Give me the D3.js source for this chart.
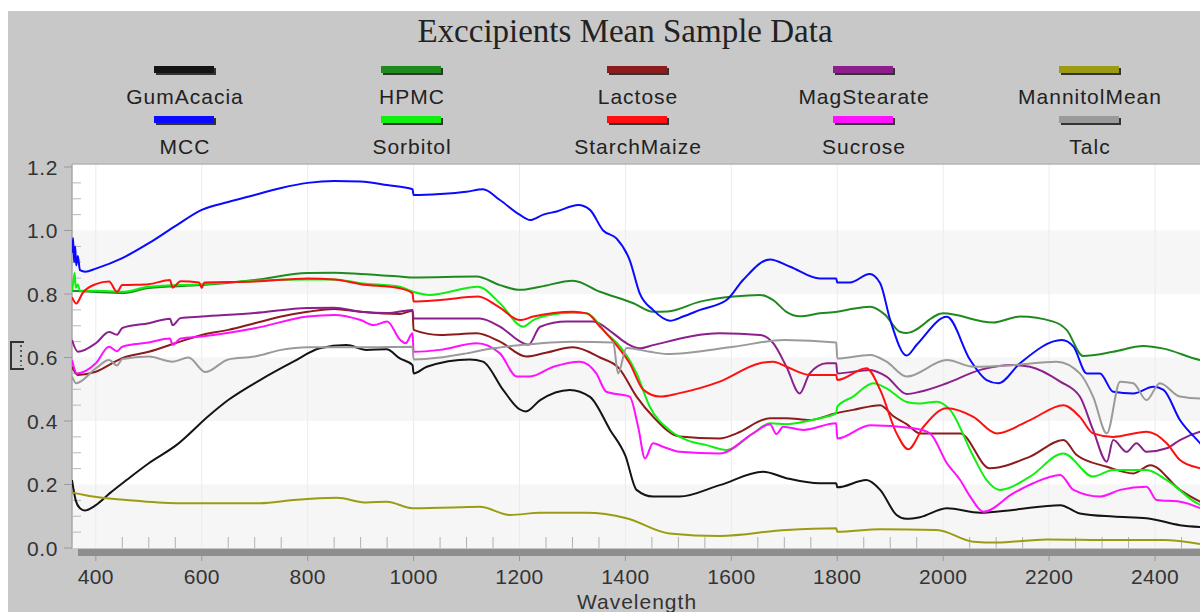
<!DOCTYPE html>
<html>
<head>
<meta charset="utf-8">
<script src="https://cdn.jsdelivr.net/npm/d3@7"></script>
<style>
  body { margin: 0; background: #fff; overflow: hidden; }
  text { font-family: Arial, "Liberation Sans", sans-serif; }
  text.title { font-family: "Liberation Serif", "Times New Roman", serif; }
</style>
</head>
<body>
<div id="chart"></div>
<script>
// [wavelength, absorbance] pairs
const gumAcacia = [[355,0.214],[362,0.15],[370,0.125],[379,0.118],[400,0.135],[426,0.172],[458,0.214],[500,0.267],[552,0.324],[615,0.419],[650,0.466],[710,0.529],[773,0.587],[823,0.629],[873,0.639],[911,0.624],[949,0.626],[974,0.597],[998,0.576],[1000,0.55],[1025,0.571],[1106,0.594],[1131,0.587],[1169,0.498],[1200,0.437],[1212,0.43],[1239,0.466],[1295,0.498],[1333,0.476],[1371,0.372],[1400,0.29],[1421,0.183],[1452,0.162],[1502,0.162],[1578,0.198],[1660,0.24],[1704,0.22],[1767,0.204],[1798,0.204],[1800,0.191],[1855,0.214],[1881,0.183],[1912,0.104],[1930,0.092],[1956,0.097],[2007,0.125],[2070,0.111],[2132,0.12],[2221,0.135],[2258,0.109],[2321,0.099],[2384,0.094],[2447,0.072],[2500,0.065]];
const hpmc = [[355,0.81],[400,0.806],[450,0.803],[500,0.819],[600,0.828],[700,0.844],[800,0.866],[850,0.867],[900,0.863],[974,0.855],[1000,0.852],[1119,0.855],[1163,0.828],[1201,0.813],[1239,0.823],[1301,0.842],[1352,0.807],[1415,0.771],[1452,0.744],[1480,0.745],[1541,0.776],[1604,0.792],[1654,0.797],[1679,0.781],[1704,0.744],[1729,0.73],[1767,0.739],[1800,0.744],[1824,0.752],[1862,0.76],[1890,0.735],[1918,0.681],[1931,0.677],[2000,0.739],[2094,0.71],[2145,0.729],[2208,0.713],[2233,0.687],[2264,0.605],[2321,0.618],[2378,0.636],[2416,0.628],[2485,0.592],[2500,0.588]];
const lactose = [[355,0.571],[366,0.545],[400,0.555],[440,0.59],[450,0.598],[500,0.618],[550,0.645],[600,0.671],[650,0.687],[700,0.708],[750,0.729],[800,0.744],[850,0.753],[900,0.744],[974,0.737],[998,0.747],[1000,0.687],[1050,0.671],[1119,0.676],[1163,0.65],[1213,0.603],[1250,0.615],[1301,0.632],[1352,0.6],[1388,0.566],[1421,0.477],[1452,0.414],[1502,0.351],[1578,0.345],[1610,0.361],[1673,0.409],[1704,0.409],[1748,0.403],[1796,0.424],[1830,0.435],[1881,0.45],[1906,0.415],[1931,0.39],[1956,0.361],[2032,0.361],[2088,0.251],[2164,0.288],[2227,0.34],[2252,0.293],[2309,0.256],[2359,0.235],[2391,0.261],[2447,0.183],[2485,0.146],[2500,0.135]];
const magStearate = [[355,0.655],[366,0.618],[400,0.645],[425,0.68],[440,0.672],[450,0.693],[500,0.708],[540,0.722],[545,0.702],[560,0.724],[600,0.729],[700,0.74],[800,0.756],[850,0.757],[900,0.744],[950,0.74],[998,0.75],[1000,0.723],[1125,0.723],[1163,0.697],[1207,0.645],[1217,0.64],[1239,0.697],[1289,0.713],[1339,0.713],[1377,0.676],[1402,0.645],[1427,0.629],[1452,0.639],[1578,0.676],[1654,0.671],[1679,0.645],[1704,0.571],[1729,0.487],[1748,0.55],[1780,0.582],[1798,0.582],[1800,0.55],[1862,0.561],[1893,0.54],[1931,0.485],[1956,0.492],[2007,0.519],[2070,0.561],[2132,0.576],[2164,0.571],[2221,0.524],[2258,0.477],[2283,0.372],[2309,0.272],[2321,0.34],[2346,0.303],[2365,0.33],[2384,0.303],[2422,0.314],[2447,0.34],[2485,0.366],[2500,0.372]];
const mannitolMean = [[355,0.175],[395,0.162],[458,0.151],[552,0.141],[710,0.141],[773,0.151],[855,0.158],[911,0.143],[949,0.146],[999,0.125],[1087,0.128],[1125,0.13],[1182,0.104],[1239,0.111],[1326,0.111],[1402,0.094],[1483,0.046],[1578,0.038],[1704,0.057],[1798,0.062],[1800,0.051],[1881,0.059],[1988,0.057],[2057,0.02],[2101,0.017],[2195,0.027],[2321,0.025],[2416,0.025],[2500,0.008]];
const mcc = [[355,0.93],[357,0.976],[359,0.9],[361,0.95],[363,0.89],[366,0.92],[370,0.875],[380,0.87],[400,0.88],[450,0.913],[500,0.96],[550,1.014],[600,1.065],[650,1.09],[700,1.112],[750,1.134],[800,1.15],[850,1.156],[900,1.154],[950,1.143],[998,1.13],[1000,1.112],[1050,1.115],[1100,1.122],[1131,1.13],[1163,1.096],[1201,1.049],[1220,1.033],[1245,1.05],[1270,1.06],[1311,1.08],[1333,1.065],[1358,1.0],[1383,0.975],[1408,0.907],[1427,0.802],[1452,0.75],[1484,0.716],[1509,0.729],[1541,0.75],[1591,0.781],[1622,0.844],[1673,0.909],[1711,0.886],[1767,0.849],[1798,0.849],[1800,0.836],[1824,0.836],[1861,0.863],[1881,0.834],[1900,0.718],[1931,0.606],[1950,0.64],[2007,0.728],[2051,0.592],[2082,0.529],[2104,0.519],[2145,0.582],[2224,0.655],[2246,0.634],[2271,0.55],[2296,0.55],[2321,0.492],[2359,0.487],[2397,0.508],[2416,0.498],[2447,0.403],[2485,0.33],[2500,0.3]];
const sorbitol = [[355,0.81],[358,0.845],[360,0.866],[362,0.82],[366,0.83],[370,0.81],[400,0.81],[450,0.807],[500,0.823],[600,0.831],[700,0.842],[800,0.846],[850,0.846],[900,0.834],[974,0.823],[999,0.807],[1031,0.797],[1122,0.823],[1163,0.771],[1207,0.697],[1226,0.718],[1257,0.734],[1301,0.741],[1327,0.739],[1364,0.676],[1390,0.634],[1421,0.55],[1446,0.445],[1483,0.372],[1516,0.34],[1553,0.324],[1591,0.309],[1641,0.361],[1673,0.393],[1704,0.39],[1767,0.409],[1798,0.424],[1800,0.445],[1830,0.477],[1868,0.519],[1893,0.503],[1931,0.46],[1956,0.455],[1988,0.461],[2013,0.435],[2057,0.288],[2082,0.214],[2107,0.183],[2164,0.225],[2227,0.298],[2283,0.225],[2321,0.246],[2384,0.246],[2422,0.214],[2479,0.141],[2500,0.125]];
const starchMaize = [[355,0.79],[363,0.77],[375,0.803],[400,0.831],[425,0.839],[440,0.807],[450,0.828],[500,0.831],[540,0.844],[545,0.82],[560,0.84],[595,0.836],[600,0.819],[605,0.836],[700,0.839],[800,0.849],[850,0.846],[900,0.831],[974,0.818],[998,0.802],[1000,0.776],[1050,0.781],[1122,0.792],[1160,0.76],[1201,0.718],[1226,0.729],[1301,0.744],[1327,0.739],[1352,0.697],[1383,0.639],[1408,0.582],[1434,0.498],[1465,0.477],[1500,0.487],[1578,0.524],[1654,0.582],[1679,0.587],[1704,0.571],[1748,0.545],[1798,0.545],[1800,0.529],[1855,0.566],[1881,0.498],[1912,0.361],[1934,0.311],[1963,0.382],[2007,0.44],[2057,0.413],[2101,0.361],[2164,0.403],[2227,0.45],[2258,0.413],[2283,0.361],[2321,0.35],[2384,0.366],[2422,0.33],[2447,0.277],[2485,0.251],[2500,0.245]];
const sucrose = [[355,0.592],[364,0.55],[400,0.582],[425,0.634],[440,0.62],[450,0.634],[500,0.647],[540,0.66],[545,0.64],[560,0.66],[600,0.666],[700,0.692],[800,0.729],[850,0.734],[900,0.718],[925,0.702],[950,0.713],[975,0.655],[985,0.645],[998,0.676],[1000,0.618],[1050,0.624],[1119,0.645],[1163,0.613],[1195,0.54],[1220,0.54],[1264,0.571],[1314,0.587],[1345,0.55],[1364,0.492],[1408,0.477],[1424,0.382],[1437,0.282],[1452,0.33],[1471,0.319],[1502,0.303],[1578,0.298],[1641,0.361],[1673,0.39],[1685,0.359],[1698,0.382],[1736,0.372],[1798,0.393],[1800,0.345],[1862,0.387],[1944,0.377],[1975,0.361],[2007,0.267],[2032,0.214],[2051,0.162],[2076,0.114],[2132,0.172],[2170,0.204],[2221,0.23],[2246,0.183],[2296,0.162],[2334,0.183],[2384,0.193],[2403,0.151],[2447,0.146],[2500,0.115]];
const talc = [[355,0.54],[363,0.519],[400,0.566],[425,0.592],[440,0.575],[450,0.595],[500,0.603],[545,0.587],[575,0.6],[607,0.554],[650,0.594],[700,0.603],[750,0.624],[800,0.632],[900,0.632],[998,0.634],[1000,0.594],[1050,0.6],[1100,0.613],[1150,0.629],[1201,0.639],[1301,0.65],[1377,0.647],[1386,0.55],[1402,0.63],[1446,0.618],[1478,0.611],[1604,0.634],[1700,0.655],[1798,0.647],[1800,0.597],[1862,0.608],[1893,0.587],[1931,0.54],[2007,0.592],[2057,0.571],[2132,0.576],[2214,0.587],[2258,0.55],[2283,0.477],[2309,0.361],[2334,0.524],[2359,0.519],[2384,0.466],[2409,0.519],[2447,0.477],[2485,0.471],[2500,0.475]];

const seriesNames = ["GumAcacia", "HPMC", "Lactose", "MagStearate", "MannitolMean",
                     "MCC", "Sorbitol", "StarchMaize", "Sucrose", "Talc"];
const seriesData = [gumAcacia, hpmc, lactose, magStearate, mannitolMean,
                    mcc, sorbitol, starchMaize, sucrose, talc];
const seriesColors = ["#141414", "#1f8a1f", "#8c1c1c", "#8c1f8c", "#9c9c14",
                      "#0a0aff", "#10f010", "#ff1010", "#ff10ff", "#9a9a9a"];
const xTicks = [400, 600, 800, 1000, 1200, 1400, 1600, 1800, 2000, 2200, 2400];
const yTicks = [0, 0.2, 0.4, 0.6, 0.8, 1.0, 1.2];

const width = 1200, height = 612;
const plot = { left: 72, top: 164, right: 1208, bottom: 548 };

const svg = d3.select("#chart").append("svg")
    .attr("width", width)
    .attr("height", height);

// gray panel behind everything
svg.append("rect")
    .attr("x", 8).attr("y", 11)
    .attr("width", width).attr("height", height)
    .attr("fill", "#c8c8c8");

const x = d3.scaleLinear().domain([355, 2500]).range([plot.left, plot.right]);
const y = d3.scaleLinear().domain([0, 1.2]).range([plot.bottom, 167]);

// plot background and alternating bands
svg.append("rect")
    .attr("x", plot.left).attr("y", plot.top)
    .attr("width", plot.right - plot.left).attr("height", plot.bottom - plot.top)
    .attr("fill", "#ffffff");

svg.append("g").selectAll("rect")
    .data([[0, 0.2], [0.4, 0.6], [0.8, 1.0]])
    .join("rect")
    .attr("x", plot.left)
    .attr("y", d => y(d[1]))
    .attr("width", plot.right - plot.left)
    .attr("height", d => y(d[0]) - y(d[1]))
    .attr("fill", "#f6f6f6");

// faint vertical grid
svg.append("g").selectAll("line")
    .data(xTicks)
    .join("line")
    .attr("x1", d => x(d)).attr("x2", d => x(d))
    .attr("y1", plot.top).attr("y2", plot.bottom)
    .attr("stroke", "#ebebeb");

// top border of plot
svg.append("line")
    .attr("x1", plot.left).attr("x2", plot.right)
    .attr("y1", plot.top).attr("y2", plot.top)
    .attr("stroke", "#b4b4b4").attr("stroke-width", 1.5);

// y axis line + ticks
svg.append("line")
    .attr("x1", plot.left).attr("x2", plot.left)
    .attr("y1", plot.top).attr("y2", plot.bottom)
    .attr("stroke", "#a8a8a8").attr("stroke-width", 1.5);

const yMinor = d3.range(0.05, 1.2, 0.05).filter(v => Math.abs(v * 5 - Math.round(v * 5)) > 0.01);
svg.append("g").selectAll("line")
    .data(yMinor)
    .join("line")
    .attr("x1", plot.left).attr("x2", plot.left + 9)
    .attr("y1", d => y(d)).attr("y2", d => y(d))
    .attr("stroke", "#b8b8b8");

svg.append("g").selectAll("line")
    .data(yTicks)
    .join("line")
    .attr("x1", plot.left - 8).attr("x2", plot.left)
    .attr("y1", d => y(d)).attr("y2", d => y(d))
    .attr("stroke", "#999");

svg.append("g").selectAll("text")
    .data(yTicks)
    .join("text")
    .attr("x", 58)
    .attr("y", d => y(d))
    .attr("dy", "0.36em")
    .attr("text-anchor", "end")
    .attr("font-size", 21)
    .attr("letter-spacing", 0.6)
    .attr("fill", "#333")
    .text(d => d.toFixed(1));

// x axis: minor ticks inside, dark bar, labels
const xMinor = d3.range(450, 2500, 50).filter(v => v % 200 !== 0);
svg.append("g").selectAll("line")
    .data(xMinor)
    .join("line")
    .attr("x1", d => x(d)).attr("x2", d => x(d))
    .attr("y1", plot.bottom - 11).attr("y2", plot.bottom)
    .attr("stroke", "#b0b0b0");

svg.append("rect")
    .attr("x", 78).attr("y", plot.bottom + 1)
    .attr("width", width).attr("height", 7)
    .attr("fill", "#8e8e8e");

svg.append("g").selectAll("line")
    .data(xTicks)
    .join("line")
    .attr("x1", d => x(d)).attr("x2", d => x(d))
    .attr("y1", plot.bottom + 8).attr("y2", plot.bottom + 13)
    .attr("stroke", "#999");

svg.append("g").selectAll("text")
    .data(xTicks)
    .join("text")
    .attr("x", d => x(d))
    .attr("y", 584)
    .attr("text-anchor", "middle")
    .attr("font-size", 21)
    .attr("letter-spacing", 0.4)
    .attr("fill", "#333")
    .text(d => d);

svg.append("text")
    .attr("x", 637).attr("y", 609)
    .attr("text-anchor", "middle")
    .attr("font-size", 21)
    .attr("letter-spacing", 1)
    .attr("fill", "#333")
    .text("Wavelength");

// small y-axis title glyph
svg.append("path")
    .attr("d", "M24,342 H11 V369 H24")
    .attr("fill", "none").attr("stroke", "#333").attr("stroke-width", 2);
svg.append("line")
    .attr("x1", 21).attr("x2", 21).attr("y1", 345).attr("y2", 366)
    .attr("stroke", "#333").attr("stroke-width", 1.5).attr("stroke-dasharray", "2,3");

// series lines
svg.append("clipPath").attr("id", "plotClip")
    .append("rect")
    .attr("x", plot.left).attr("y", plot.top)
    .attr("width", plot.right - plot.left).attr("height", plot.bottom - plot.top);

const line = d3.line()
    .curve(d3.curveMonotoneX)
    .x(d => x(d[0]))
    .y(d => y(d[1]));

svg.append("g")
    .attr("clip-path", "url(#plotClip)")
    .selectAll("path")
    .data(seriesData)
    .join("path")
    .attr("d", line)
    .attr("fill", "none")
    .attr("stroke", (d, i) => seriesColors[i])
    .attr("stroke-width", 2)
    .attr("stroke-linejoin", "round");

// title
svg.append("text")
    .attr("class", "title")
    .attr("x", 625).attr("y", 42)
    .attr("text-anchor", "middle")
    .attr("font-size", 33)
    .attr("fill", "#222")
    .text("Exccipients Mean Sample Data");

// legend, 5 columns x 2 rows
const legendCols = [185, 412, 638, 864, 1090];
const legendRows = [66, 116];
const legend = svg.append("g").selectAll("g")
    .data(seriesNames)
    .join("g")
    .attr("transform", (d, i) => `translate(${legendCols[i % 5]},${legendRows[Math.floor(i / 5)]})`);

legend.append("rect")
    .attr("x", -29).attr("y", 2)
    .attr("width", 60).attr("height", 7)
    .attr("fill", "#333");
legend.append("rect")
    .attr("x", -31).attr("y", 0)
    .attr("width", 60).attr("height", 7)
    .attr("fill", (d, i) => seriesColors[i]);
legend.append("text")
    .attr("x", 0).attr("y", 38)
    .attr("text-anchor", "middle")
    .attr("font-size", 21)
    .attr("letter-spacing", 1)
    .attr("fill", "#222")
    .text(d => d);
</script>
</body>
</html>
